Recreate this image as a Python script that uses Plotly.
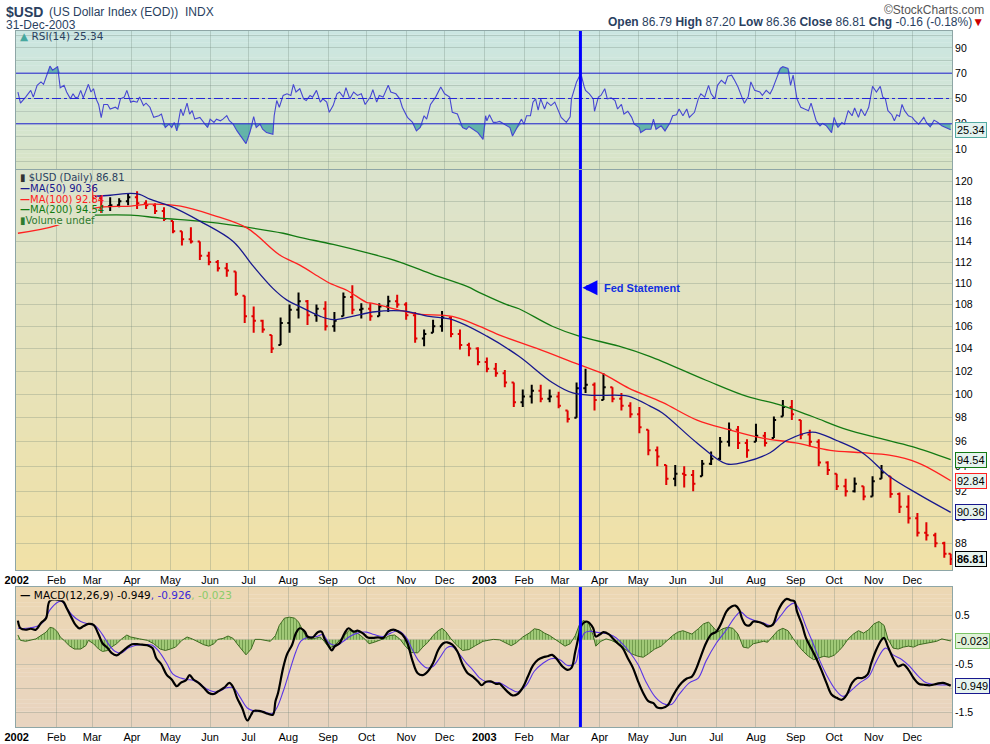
import numpy as np
import pandas as pd
import plotly.graph_objects as go

START = pd.Timestamp("2002-01-01")

# ---- price: weekly bars (Fridays), x given as days counted from 2002-01-01
week_days = list(range(59, 361, 7)) + list(range(367, 725, 7)) + [729]
price_high = [
    119.6, 118.6, 118.4, 118.3, 118.8, 119.0, 118.1, 117.8, 117.4, 116.0,
    115.0, 115.4, 114.0, 113.0, 112.2, 111.9, 111.1, 108.8, 107.8, 106.6,
    105.2, 106.8, 108.0, 109.1, 108.4, 108.0, 108.3, 107.3, 109.1, 109.8,
    108.1, 108.1, 108.1, 108.8, 108.9, 108.2, 107.3, 105.7, 106.6, 107.4,
    106.9, 105.7, 104.5, 104.1,
    103.2, 102.7, 102.1, 101.0, 100.4, 100.8, 100.8, 100.4, 100.2, 98.6,
    101.0, 102.2, 101.0, 101.8, 100.6, 100.1, 99.3, 98.9, 97.0, 95.6,
    94.1, 94.1, 94.0, 93.7, 94.5, 95.2, 96.4, 97.6, 97.3, 96.2,
    97.5, 96.8, 98.1, 99.5, 99.5, 97.8, 97.0, 96.2, 94.4, 93.4,
    93.0, 93.1, 92.4, 93.2, 94.1, 93.2, 91.9, 91.7, 90.3, 89.6,
    88.8, 88.1, 87.20,
]
price_low = [
    117.9, 116.8, 117.0, 117.4, 117.6, 117.2, 117.2, 116.7, 116.0, 114.8,
    113.6, 113.8, 112.2, 111.7, 111.1, 110.6, 108.8, 106.3, 105.4, 105.4,
    103.6, 104.3, 105.4, 106.7, 106.1, 106.4, 105.6, 105.5, 106.9, 107.1,
    106.7, 106.5, 106.9, 107.3, 107.7, 106.6, 104.5, 104.2, 105.4, 105.5,
    105.0, 103.9, 103.3, 102.5,
    101.9, 101.5, 100.6, 98.9, 98.9, 99.2, 99.3, 99.3, 98.8, 97.6,
    98.0, 100.1, 98.6, 99.5, 99.3, 98.6, 98.0, 96.7, 94.9, 94.0,
    92.5, 92.4, 92.3, 92.0, 93.2, 94.1, 94.5, 95.6, 95.4, 94.7,
    96.0, 95.6, 96.3, 98.1, 97.8, 96.2, 95.6, 94.0, 93.3, 92.1,
    91.6, 91.9, 91.3, 91.6, 93.0, 91.5, 90.3, 89.5, 88.5, 88.2,
    87.7, 86.9, 86.36,
]
price_close = [
    118.3, 117.5, 117.6, 118.0, 118.4, 117.8, 117.6, 117.0, 116.2, 115.0,
    114.2, 114.0, 112.6, 112.0, 111.4, 111.2, 109.0, 106.9, 106.5, 105.7,
    104.0, 106.3, 107.5, 108.3, 107.0, 107.6, 106.0, 106.5, 108.7, 107.5,
    107.6, 106.9, 107.8, 108.3, 108.0, 107.0, 104.9, 105.3, 106.0, 106.8,
    105.3, 104.3, 104.0, 102.8,
    102.2, 101.8, 101.0, 99.3, 99.8, 100.3, 99.6, 99.8, 99.0, 97.9,
    100.5, 100.8, 99.5, 100.6, 99.6, 99.0, 98.3, 97.2, 95.3, 94.8,
    93.0, 93.4, 93.3, 92.6, 94.2, 94.6, 96.0, 97.0, 95.9, 95.3,
    96.5, 95.9, 97.8, 98.9, 98.3, 96.6, 96.0, 94.3, 93.7, 92.4,
    92.0, 92.6, 91.6, 92.8, 93.5, 91.8, 90.8, 89.9, 88.8, 88.6,
    88.0, 87.2, 86.81,
]
first_open = 119.0

ma50_days = [61, 73, 89, 96, 104, 120, 143, 169, 184, 200, 211, 221, 237, 247, 262, 278, 301, 322,
             340, 367, 392, 418, 434, 449, 470, 478, 494, 504, 531, 554, 570, 588, 601, 621, 640,
             660, 681, 705, 729]
ma50_vals = [118.5, 118.6, 118.8, 118.7, 118.2, 117.5, 116.0, 114.0, 111.7, 109.5, 108.4, 107.8,
             106.9, 106.6, 106.9, 107.3, 107.4, 106.9, 106.6, 105.1, 103.3, 101.0, 100.1, 99.9,
             99.9, 99.8, 99.0, 98.4, 95.9, 94.2, 94.4, 95.1, 96.1, 96.8, 96.1, 95.1, 93.2, 91.7,
             90.36]
ma100_days = [1, 32, 61, 89, 104, 128, 153, 180, 205, 221, 237, 244, 258, 273, 278, 301, 314, 340,
              359, 379, 406, 438, 457, 478, 504, 531, 556, 582, 608, 635, 660, 681, 703, 729]
ma100_vals = [114.8, 115.6, 117.3, 117.5, 117.7, 117.5, 116.6, 115.3, 112.7, 111.7, 110.5, 110.0,
              109.3, 108.2, 108.1, 107.4, 107.1, 106.9, 106.1, 105.1, 104.0, 102.6, 101.8, 100.5,
              99.3, 97.8, 97.0, 96.3, 95.9, 95.3, 95.1, 94.9, 94.3, 92.84]
ma200_days = [61, 89, 112, 143, 174, 208, 221, 247, 273, 299, 325, 351, 363, 382, 392, 418, 439,
              470, 494, 538, 570, 595, 621, 648, 673, 699, 729]
ma200_vals = [116.6, 116.6, 116.3, 116.0, 115.5, 114.8, 114.4, 113.7, 112.9, 112.0, 110.8, 109.7,
              109.0, 108.0, 107.6, 106.0, 105.1, 104.2, 103.3, 101.2, 99.8, 99.1, 98.1, 97.0,
              96.3, 95.6, 94.54]

# ---- RSI(14)
rsi_days = [
    1, 3, 7, 11, 13, 16, 19, 21, 24, 26, 28, 30, 32, 34, 37, 39, 42, 44, 46, 48, 50, 52, 56, 58,
    60, 62, 64, 66, 68, 71, 73, 77, 79, 81, 84, 86, 89, 91, 94, 96, 99, 101, 104, 107, 111, 113,
    116, 119, 121, 123, 125, 128, 130, 133, 135, 137, 139, 143, 146, 149, 151, 154, 156, 159, 161,
    164, 166, 169, 172, 176, 179, 182, 185, 187, 190, 192, 195, 200, 201, 203, 205, 208, 211, 214,
    216, 218, 221, 224, 226, 229, 231, 234, 237, 239, 242, 244, 247, 250, 252, 255, 257, 260, 263,
    266, 269, 272, 276, 278, 281, 283, 286, 290, 292, 296, 299, 301, 305, 309, 312, 315, 318, 320,
    323, 327, 331, 334, 338, 340, 344, 348, 351, 353, 356, 360, 364, 366, 367, 369, 372, 374, 377,
    381, 385, 387, 390, 394, 396, 398, 401, 403, 405, 407, 409, 412, 414, 417, 420, 422, 425, 429,
    432, 433, 435, 437, 439, 441, 443, 444, 447, 450, 451, 454, 456, 459, 461, 464, 467, 469, 472,
    474, 477, 480, 482, 486, 487, 491, 495, 497, 499, 503, 506, 510, 512, 515, 517, 520, 523, 525,
    529, 532, 534, 537, 540, 542, 545, 547, 550, 553, 555, 558, 560, 563, 566, 568, 571, 573, 576,
    580, 582, 585, 588, 590, 593, 596, 598, 602, 604, 606, 609, 612, 615, 618, 620, 622, 624, 627,
    629, 632, 636, 638, 641, 644, 646, 649, 652, 654, 657, 659, 662, 665, 668, 671, 674, 676, 678,
    680, 683, 685, 687, 689, 691, 693, 696, 699, 701, 704, 708, 710, 713, 716, 719, 722, 725, 729,
]
rsi_vals = [
    55.1, 46.3, 51.1, 56.4, 51.1, 60.4, 63.1, 61.2, 69.7, 75.6, 72.4, 73.7, 75.1, 58.5, 60.4, 55.1,
    49.7, 53.7, 50.5, 51.1, 56.4, 50.5, 61.2, 55.1, 57.7, 49.7, 45.3, 34.9, 45.3, 45.3, 41.7, 43.1,
    41.7, 49.7, 51.1, 56.4, 47.1, 47.9, 47.1, 51.1, 44.4, 46.3, 43.1, 35.1, 36.4, 37.7, 27.1, 29.7,
    27.1, 31.1, 24.4, 41.7, 36.4, 46.3, 37.7, 40.4, 33.7, 35.1, 31.1, 27.1, 33.7, 31.1, 33.7, 32.4,
    33.7, 36.4, 32.4, 29.7, 24.4, 19.1, 14.3, 23.1, 35.6, 27.1, 29.7, 25.7, 23.1, 21.7, 36.4, 48.4,
    43.1, 52.4, 53.7, 52.4, 61.2, 55.1, 57.7, 49.7, 48.4, 52.4, 51.1, 56.4, 47.1, 49.7, 47.1, 39.1,
    44.4, 53.7, 55.1, 51.1, 58.5, 49.7, 55.1, 52.4, 53.7, 45.3, 51.1, 56.9, 47.1, 52.4, 51.1, 60.4,
    55.1, 53.7, 49.7, 43.1, 35.1, 31.1, 24.4, 27.1, 36.4, 33.7, 45.3, 51.1, 59.1, 53.7, 51.1, 39.1,
    37.7, 27.1, 25.7, 27.9, 25.7, 23.1, 17.7, 36.4, 32.4, 37.2, 31.1, 31.1, 31.9,
    29.7, 27.1, 20.4, 25.7, 33.7, 29.7, 36.4, 36.4, 47.1, 49.7, 40.9, 49.7, 41.7, 47.1, 44.4, 47.1,
    41.7, 35.1, 31.1, 35.6, 49.7, 56.4, 63.1, 67.1, 67.1, 59.1, 56.4, 53.7, 49.7, 39.9, 51.1, 52.4,
    57.7, 49.7, 50.5, 48.4, 41.7, 45.3, 37.7, 39.9, 35.1, 29.7, 27.1, 23.1, 25.7, 25.7, 33.7, 25.7,
    28.4, 24.4, 31.1, 36.4, 37.2, 41.7, 36.4, 41.7, 35.1, 39.1, 49.7, 53.7, 51.1, 60.4, 53.7, 49.7,
    60.4, 64.4, 61.7, 67.6, 68.4, 64.9, 59.1, 51.1, 46.3, 51.6, 63.1, 56.4, 55.1, 52.4, 56.4, 53.7,
    57.7, 65.7, 73.7, 75.1, 73.7, 60.4, 68.4, 49.7, 43.1, 41.7, 40.4, 46.3, 39.1, 32.4, 28.4, 30.3,
    28.4, 23.1, 35.1, 27.1, 31.1, 29.7, 40.4, 36.4, 42.5, 35.1, 41.7, 36.4, 43.1, 59.6, 55.1, 59.6,
    51.1, 49.7, 40.4, 37.2, 32.4, 37.2, 35.9, 45.3, 40.4, 36.4, 35.1, 32.4, 29.7, 35.1, 31.1, 27.6,
    32.9, 31.1, 28.4, 27.1, 25.34,
]

# ---- MACD(12,26,9)
macd_days = [
    1, 3, 7, 11, 15, 19, 23, 26, 36, 39, 43, 46, 49, 52, 56, 60, 64, 67, 71, 74, 78, 81, 86, 90,
    94, 98, 102, 106, 109, 113, 117, 121, 125, 128, 132, 135, 138, 142, 146, 150, 154, 157, 162,
    166, 169, 172, 176, 180, 183, 185, 189, 192, 196, 200, 202, 204, 208, 211, 215, 218, 221, 225,
    227, 231, 235, 238, 240, 243, 246, 248, 252, 256, 259, 263, 266, 270, 274, 278, 282, 286, 290,
    294, 298, 301, 305, 309, 313, 317, 321, 325, 329, 333, 336, 340, 344, 348, 352, 356, 360, 363,
    366, 370, 374, 377,
    379, 383, 387, 391, 395, 399, 403, 407, 411, 414, 418, 422, 426, 430, 433, 436, 439, 441, 445,
    447, 450, 452, 455, 458, 462, 465, 469, 473, 477, 481, 485, 489, 493, 497, 500, 504, 508, 512,
    515, 519, 523, 527, 530, 534, 538, 542, 546, 550, 554, 558, 561, 564, 566, 569, 572, 575, 579,
    583, 586, 590, 594, 598, 601, 604, 607, 609, 613, 616, 620, 624, 628, 632, 636, 640, 644, 648,
    652, 656, 660, 664, 667, 671, 675, 677, 680, 684, 688, 692, 696, 700, 704, 708, 713, 718, 723,
    729,
]
macd_vals = [
    0.40, 0.24, 0.21, 0.23, 0.21, 0.35, 0.45, 0.81, 0.80, 0.66, 0.45, 0.31, 0.24, 0.28, 0.33, 0.31,
    0.11, -0.07, -0.17, -0.27, -0.32, -0.27, -0.16, -0.09, -0.09, -0.10, -0.11, -0.17, -0.38, -0.51,
    -0.72, -0.82, -0.96, -0.89, -0.84, -0.73, -0.82, -0.89, -0.99, -1.10, -1.12, -1.07, -0.99,
    -0.89, -0.98, -1.20, -1.41, -1.67, -1.55, -1.47, -1.47, -1.49, -1.53, -1.55, -1.27, -1.10,
    -0.58, -0.30, -0.10, 0.14, 0.24, 0.17, 0.07, 0.05, 0.16, 0.17, 0.04, -0.10, -0.22, -0.14, -0.07,
    0.14, 0.24, 0.17, 0.19, 0.14, 0.05, 0.04, 0.05, 0.04, 0.17, 0.21, 0.17, 0.11, -0.07, -0.44,
    -0.69, -0.73, -0.65, -0.48, -0.21, -0.07, -0.05, -0.10, -0.24, -0.51, -0.69, -0.76, -0.86,
    -0.94, -0.87, -0.86, -0.91, -0.91,
    -0.96, -1.07, -1.15, -1.12, -0.99, -0.76, -0.53, -0.41, -0.36, -0.34, -0.31, -0.41, -0.55,
    -0.62, -0.58, -0.24, 0.11, 0.31, 0.38, 0.35, 0.24, 0.07, 0.11, 0.16, 0.12, 0.04, -0.07, -0.17,
    -0.38, -0.58, -0.86, -1.10, -1.27, -1.31, -1.40, -1.41, -1.36, -1.17, -1.03, -0.89, -0.80,
    -0.76, -0.62, -0.34, -0.07, 0.11, 0.17, 0.35, 0.59, 0.69, 0.71, 0.62, 0.45, 0.31, 0.30, 0.38,
    0.37, 0.33, 0.28, 0.31, 0.59, 0.78, 0.85, 0.82, 0.80, 0.59, 0.31, 0.04, -0.17, -0.38, -0.62,
    -0.89, -1.13, -1.20, -1.24, -1.13, -0.89, -0.79, -0.79, -0.72, -0.48, -0.20, 0.00, 0.04, -0.14,
    -0.38, -0.55, -0.51, -0.62, -0.79, -0.91, -0.93, -0.94, -0.91, -0.89, -0.949,
]
signal_days = [
    1, 8, 16, 21, 26, 32, 35, 38, 43, 50, 56, 61, 67, 72, 77, 82, 87, 93, 99, 106, 111, 117, 122,
    128, 133, 138, 143, 148, 156, 164, 169, 174, 180, 185, 192, 199, 203, 208, 213, 218, 222, 227,
    234, 239, 244, 250, 255, 260, 266, 273, 279, 286, 292, 298, 304, 309, 314, 320, 325, 330, 336,
    340, 346, 351, 356, 361, 366, 372, 377,
    385, 391, 398, 404, 411, 417, 424, 430, 436, 439, 443, 447, 452, 458, 463, 468, 473, 478, 485,
    491, 498, 504, 511, 517, 525, 532, 538, 546, 554, 560, 565, 570, 576, 583, 589, 596, 602, 607,
    611, 616, 622, 627, 632, 639, 645, 652, 658, 665, 671, 678, 684, 691, 697, 704, 710, 718, 729,
]
signal_vals = [
    0.24, 0.24, 0.28, 0.38, 0.62, 0.78, 0.80, 0.71, 0.52, 0.38, 0.33, 0.30, 0.11, -0.10, -0.24,
    -0.27, -0.17, -0.11, -0.10, -0.11, -0.24, -0.48, -0.71, -0.79, -0.82, -0.84, -0.91, -1.01,
    -1.08, -0.99, -0.99, -1.17, -1.41, -1.47, -1.48, -1.53, -1.41, -1.07, -0.65, -0.24, -0.02,
    0.05, 0.07, 0.11, -0.07, -0.11, -0.03, 0.07, 0.14, 0.16, 0.11, 0.07, 0.14, 0.19, 0.05, -0.21,
    -0.44, -0.58, -0.55, -0.38, -0.16, -0.14, -0.31, -0.48, -0.62, -0.78, -0.86, -0.88, -0.89,
    -1.01, -1.08, -0.93, -0.65, -0.48, -0.39, -0.41, -0.53, -0.48, -0.17, 0.14, 0.18, 0.16, 0.14,
    0.11, 0.04, -0.09, -0.24, -0.51, -0.86, -1.17, -1.31, -1.34, -1.13, -0.89, -0.79, -0.44,
    -0.07, 0.21, 0.45, 0.58, 0.47, 0.40, 0.35, 0.30, 0.49, 0.69, 0.76, 0.62, 0.28, -0.10, -0.44,
    -0.72, -1.03, -1.17, -1.03, -0.89, -0.76, -0.44, -0.17, -0.31, -0.41, -0.55, -0.76, -0.89,
    -0.93, -0.926,
]
hist_days = [
    1, 3, 7, 11, 15, 19, 23, 26, 29, 32, 34, 37, 41, 45, 50, 54, 56, 60, 64, 67, 71, 74, 78, 82,
    86, 89, 93, 96, 102, 107, 112, 116, 120, 124, 129, 133, 137, 141, 146, 150, 154, 157, 161, 165,
    169, 172, 176, 179, 183, 186, 190, 194, 198, 202, 205, 209, 213, 217, 220, 224, 227, 231, 237,
    240, 244, 248, 252, 256, 260, 264, 268, 272, 275, 279, 283, 287, 291, 295, 299, 303, 308, 313,
    317, 321, 325, 329, 332, 335, 339, 343, 348, 353, 358, 364, 368, 372, 377,
    381, 386, 390, 395, 400, 404, 408, 412, 416, 420, 424, 428, 432, 436, 439, 442, 446, 450, 452,
    456, 460, 464, 468, 472, 476, 480, 485, 489, 493, 498, 503, 508, 512, 516, 520, 523, 527, 532,
    536, 540, 544, 547, 551, 555, 559, 563, 567, 571, 575, 579, 583, 586, 590, 594, 598, 602, 606,
    610, 614, 618, 622, 626, 630, 634, 638, 642, 645, 649, 653, 657, 661, 665, 669, 673, 677, 680,
    684, 688, 692, 696, 700, 704, 708, 713, 718, 722, 729,
]
hist_vals = [
    0.10, -0.01, -0.03, -0.01, 0.02, 0.09, 0.16, 0.26, 0.24, 0.16, 0.06, -0.01, -0.12, -0.19,
    -0.19, -0.12, -0.01, -0.08, -0.19, -0.24, -0.22, -0.15, -0.08, 0.02, 0.10, 0.06, 0.03, 0.02,
    -0.01, -0.08, -0.19, -0.22, -0.19, -0.15, -0.01, 0.06, 0.02, -0.03, -0.10, -0.13, -0.08, 0.01,
    0.03, 0.08, 0.03, -0.08, -0.22, -0.31, -0.19, 0.01, 0.01, -0.01, -0.03, 0.09, 0.30, 0.45, 0.47,
    0.45, 0.37, 0.16, 0.02, 0.02, 0.06, -0.03, -0.17, -0.12, -0.01, 0.12, 0.21, 0.17, 0.10, 0.01,
    -0.08, -0.05, -0.01, 0.03, 0.09, 0.10, 0.02, -0.12, -0.26, -0.27, -0.15, -0.05, 0.09, 0.19,
    0.24, 0.17, 0.02, -0.10, -0.22, -0.20, -0.12, -0.03, -0.01, 0.01, 0.00,
    -0.06, -0.12, -0.06, 0.06, 0.14, 0.23, 0.21, 0.14, 0.09, 0.02, -0.05, -0.13, -0.08, 0.09, 0.30,
    0.40, 0.37, 0.09, -0.13, -0.03, 0.02, -0.01, -0.06, -0.13, -0.22, -0.29, -0.34, -0.36, -0.29,
    -0.19, -0.13, -0.01, 0.09, 0.16, 0.19, 0.16, 0.12, 0.23, 0.33, 0.37, 0.24, 0.16, 0.23, 0.26,
    0.24, 0.12, -0.15, -0.17, -0.08, -0.05, -0.03, -0.05, 0.06, 0.19, 0.24, 0.19, 0.03, -0.12,
    -0.24, -0.34, -0.41, -0.38, -0.34, -0.36, -0.32, -0.22, -0.13, 0.02, 0.12, 0.19, 0.14, 0.21,
    0.33, 0.38, 0.30, 0.02, -0.17, -0.19, -0.15, -0.13, -0.15, -0.10, -0.08, -0.06, -0.03, 0.02,
    -0.023,
]

month_starts = pd.date_range("2002-01-01", "2003-12-01", freq="MS")
month_labels = [f"<b>{d.year}</b>" if d.month == 1 else d.strftime("%b") for d in month_starts]
price_ticks = list(range(88, 121, 2))
fed_date = "2003-03-17"

for a, b in [(week_days, price_high), (week_days, price_low), (week_days, price_close),
             (ma50_days, ma50_vals), (ma100_days, ma100_vals), (ma200_days, ma200_vals),
             (rsi_days, rsi_vals), (macd_days, macd_vals), (signal_days, signal_vals),
             (hist_days, hist_vals)]:
    assert len(a) == len(b), (len(a), len(b))


def to_dates(days):
    return START + pd.to_timedelta(days, unit="D")


def hex_rgb(h):
    h = h.lstrip("#")
    return np.array([int(h[i:i + 2], 16) for i in (0, 2, 4)], dtype=float)


def add_gradient(fig, ax, top, bottom, steps=36, x1=1.0, ymin=0.0, layer="below"):
    t, b = hex_rgb(top), hex_rgb(bottom)
    for i in range(steps):
        y0, y1 = i / steps, (i + 1) / steps
        if y1 <= ymin:
            continue
        c = b + (t - b) * (i + 0.5) / steps
        fig.add_shape(type="rect", xref=f"x{ax} domain", yref=f"y{ax} domain",
                      x0=0, x1=x1, y0=max(y0, ymin), y1=min(y1 + 0.002, 1.0),
                      fillcolor="rgb(%d,%d,%d)" % tuple(c.round()), line_width=0, layer=layer)


wk = to_dates(week_days)
closes = np.array(price_close)
opens = np.clip(np.r_[first_open, closes[:-1]], price_low, price_high)

rsi_x = to_dates(rsi_days)
rsi = np.array(rsi_vals)

fig = go.Figure()

# RSI panel
fig.add_trace(go.Scatter(x=rsi_x, y=[70] * len(rsi), mode="lines", line=dict(width=0),
                         xaxis="x", yaxis="y", hoverinfo="skip"))
fig.add_trace(go.Scatter(x=rsi_x, y=np.maximum(rsi, 70), mode="lines", line=dict(width=0),
                         fill="tonexty", fillcolor="rgba(70,168,160,0.8)",
                         xaxis="x", yaxis="y", hoverinfo="skip"))
fig.add_trace(go.Scatter(x=rsi_x, y=[30] * len(rsi), mode="lines", line=dict(width=0),
                         xaxis="x", yaxis="y", hoverinfo="skip"))
fig.add_trace(go.Scatter(x=rsi_x, y=np.minimum(rsi, 30), mode="lines", line=dict(width=0),
                         fill="tonexty", fillcolor="rgba(70,168,160,0.8)",
                         xaxis="x", yaxis="y", hoverinfo="skip"))
fig.add_trace(go.Scatter(x=rsi_x, y=rsi, mode="lines", line=dict(color="#4646d2", width=1.1),
                         xaxis="x", yaxis="y", name="RSI(14)"))

# price panel
fig.add_trace(go.Ohlc(x=wk, open=opens, high=price_high, low=price_low, close=price_close,
                      increasing_line_color="#000000", decreasing_line_color="#e00000",
                      line_width=2, tickwidth=0.35, xaxis="x2", yaxis="y2", name="$USD"))
fig.add_trace(go.Scatter(x=to_dates(ma200_days), y=ma200_vals, mode="lines",
                         line=dict(color="#137a13", width=1.3, shape="spline"),
                         xaxis="x2", yaxis="y2", name="MA(200)"))
fig.add_trace(go.Scatter(x=to_dates(ma100_days), y=ma100_vals, mode="lines",
                         line=dict(color="#ff2020", width=1.3, shape="spline"),
                         xaxis="x2", yaxis="y2", name="MA(100)"))
fig.add_trace(go.Scatter(x=to_dates(ma50_days), y=ma50_vals, mode="lines",
                         line=dict(color="#18188e", width=1.3, shape="spline"),
                         xaxis="x2", yaxis="y2", name="MA(50)"))

# MACD panel
fig.add_trace(go.Scatter(x=to_dates(hist_days), y=hist_vals, mode="lines",
                         line=dict(color="#3e6b20", width=1), fill="tozeroy",
                         fillcolor="#a9d17f",
                         fillpattern=dict(shape="|", fgcolor="#3e6b20", bgcolor="#a9d17f",
                                          size=3, solidity=0.45),
                         xaxis="x3", yaxis="y3", name="Histogram"))
fig.add_trace(go.Scatter(x=to_dates(signal_days), y=signal_vals, mode="lines",
                         line=dict(color="#5a35e6", width=1.1, shape="spline"),
                         xaxis="x3", yaxis="y3", name="Signal"))
fig.add_trace(go.Scatter(x=to_dates(macd_days), y=macd_vals, mode="lines",
                         line=dict(color="#000000", width=2.2, shape="spline"),
                         xaxis="x3", yaxis="y3", name="MACD"))

# backgrounds
add_gradient(fig, "", "#cbe6e2", "#d9e4c6")
add_gradient(fig, "2", "#dbe3cd", "#f1e1a6")
add_gradient(fig, "3", "#ecd7b3", "#e8d4c0")
# opaque legend boxes
add_gradient(fig, "2", "#dbe3cd", "#f1e1a6", x1=0.0815, ymin=0.8625, layer="above")
add_gradient(fig, "3", "#ecd7b3", "#e8d4c0", x1=0.248, ymin=0.905, layer="above")

# RSI reference lines
for lvl, dash in [(70, "solid"), (30, "solid"), (50, "dashdot")]:
    fig.add_shape(type="line", xref="x domain", yref="y", x0=0, x1=1, y0=lvl, y1=lvl,
                  line=dict(color="#2424d8", width=1, dash=dash), layer="above")

# Fed statement line through all three panels
for ax in ["", "2", "3"]:
    fig.add_shape(type="line", xref=f"x{ax}", yref=f"y{ax} domain", x0=fed_date, x1=fed_date,
                  y0=0, y1=1, line=dict(color="#0000ff", width=3), layer="above")

grid = "rgba(105,125,115,0.28)"
frame = "#8ea6a6"
label_font = dict(family="Liberation Sans, Arial, sans-serif", size=11, color="#000000")
xcommon = dict(type="date", range=["2001-12-31 12:00", "2004-01-01"], tickvals=month_starts,
               ticktext=month_labels, showgrid=True, gridcolor=grid, gridwidth=1, ticks="",
               showline=True, mirror=True, linecolor=frame, linewidth=1, automargin=False,
               tickfont=label_font, zeroline=False, rangeslider=dict(visible=False))
ycommon = dict(side="right", showgrid=True, gridcolor=grid, gridwidth=1, ticks="",
               showline=True, mirror=True, linecolor=frame, linewidth=1, zeroline=False,
               automargin=False,
               tickfont=dict(family="Liberation Sans, Arial, sans-serif", size=10.5,
                             color="#000000"))

fig.update_layout(
    width=990, height=744, autosize=False,
    margin=dict(l=16, r=38, t=31, b=17),
    paper_bgcolor="#ffffff", plot_bgcolor="rgba(0,0,0,0)",
    showlegend=False, hovermode=False,
    xaxis=dict(xcommon, anchor="y", showticklabels=False),
    xaxis2=dict(xcommon, anchor="y2", matches="x"),
    xaxis3=dict(xcommon, anchor="y3", matches="x"),
    yaxis=dict(ycommon, anchor="x", domain=[0.8017, 1.0], range=[-5.7, 103.3],
               tickvals=list(range(0, 101, 10)),
               ticktext=["", "10", "", "30", "", "50", "", "70", "", "90", ""]),
    yaxis2=dict(ycommon, anchor="x2", domain=[0.2256, 0.8003], type="log",
                range=[np.log10(86.0), np.log10(121.2)], tickvals=price_ticks,
                ticktext=[str(v) for v in price_ticks]),
    yaxis3=dict(ycommon, anchor="x3", domain=[0.0, 0.2011], range=[-1.804, 1.094],
                tickvals=[0.5, 0, -0.5, -1.0, -1.5], ticktext=["0.5", "", "-0.5", "", "-1.5"]),
)


def px_x(px):
    return (px - 16) / 936


def px_y(py):
    return (727 - py) / 696


narrow = "Liberation Sans Narrow, Liberation Sans, Arial, sans-serif"
legend_font = "DejaVu Sans, Verdana, sans-serif"
ann = []
# header
ann.append(dict(x=px_x(4), y=px_y(12), text="<b>$USD</b>", font=dict(family=narrow, size=14)))
ann.append(dict(x=px_x(47), y=px_y(12), text="(US Dollar Index (EOD))  INDX",
                font=dict(family=narrow, size=12)))
ann.append(dict(x=px_x(4), y=px_y(25), text="31-Dec-2003", font=dict(family=narrow, size=12)))
ann.append(dict(x=px_x(986), y=px_y(10), text="©StockCharts.com", xanchor="right",
                font=dict(family=narrow, size=12, color="#555555")))
ann.append(dict(x=px_x(986), y=px_y(22), xanchor="right",
                text="<b>Open</b> 86.79 <b>High</b> 87.20 <b>Low</b> 86.36 <b>Close</b> 86.81 "
                     "<b>Chg</b> -0.16 (-0.18%)<span style='color:#cc0000'>▼</span>",
                font=dict(family=narrow, size=12)))
# panel legends
ann.append(dict(x=px_x(18), y=px_y(36),
                text="<span style='color:#46a89f'>▲</span> RSI(14) 25.34",
                font=dict(family=legend_font, size=10.5)))
ann.append(dict(x=px_x(18), y=px_y(178),
                text="<span style='color:#333'>▮</span> $USD (Daily) 86.81",
                font=dict(family=legend_font, size=10)))
ann.append(dict(x=px_x(18), y=px_y(188.5), text="<b>—</b>MA(50) 90.36",
                font=dict(family=legend_font, size=10, color="#18188e")))
ann.append(dict(x=px_x(18), y=px_y(199), text="<b>—</b>MA(100) 92.84",
                font=dict(family=legend_font, size=10, color="#ff2020")))
ann.append(dict(x=px_x(18), y=px_y(209.5), text="<b>—</b>MA(200) 94.54",
                font=dict(family=legend_font, size=10, color="#137a13")))
ann.append(dict(x=px_x(18), y=px_y(220), text="▮Volume undef",
                font=dict(family=legend_font, size=10, color="#2e7a2e")))
ann.append(dict(x=px_x(18), y=px_y(594.5),
                text="<b>—</b> MACD(12,26,9) -0.949<span style='color:#3a2ad8'>, -0.926</span>"
                     "<span style='color:#8acb6a'>, -0.023</span>",
                font=dict(family=legend_font, size=10.5, color="#000000")))
for a in ann:
    a.update(xref="paper", yref="paper", showarrow=False, yanchor="middle")
    a.setdefault("xanchor", "left")

# value tags on the right axis
tags = [
    ("y", 25.34, "25.34", "#52aaa2", "#e2f2ef", False),
    ("y2", np.log10(94.54), "94.54", "#137a13", "#e6f3ee", False),
    ("y2", np.log10(92.84), "92.84", "#ff2020", "#e6f3ee", False),
    ("y2", np.log10(90.36), "90.36", "#18188e", "#e6f3ee", False),
    ("y2", np.log10(86.81), "86.81", "#000000", "#e6f3ee", True),
    ("y3", -0.023, "-0.023", "#7cc466", "#dff2d8", False),
    ("y3", -0.949, "-0.949", "#18188e", "#e6f3ee", False),
]
for yref, yv, txt, border, bg, bold in tags:
    ann.append(dict(xref="paper", yref=yref, x=1.0, y=yv, xanchor="left", yanchor="middle",
                    xshift=3, showarrow=False, text=f"<b>{txt}</b>" if bold else txt,
                    bgcolor=bg, bordercolor=border, borderwidth=1, borderpad=1,
                    font=dict(family="Liberation Sans, Arial, sans-serif", size=11,
                              color="#000000")))

# Fed statement marker
ann.append(dict(xref="x2", yref="y2", x=fed_date, y=np.log10(109.55), text="",
                showarrow=True, ax=17, ay=0, arrowhead=2, arrowsize=0.6, arrowwidth=5,
                arrowcolor="#0000ff", standoff=2))
ann.append(dict(xref="x2", yref="y2", x=fed_date, y=np.log10(109.55), xshift=22,
                xanchor="left", yanchor="middle", showarrow=False, text="<b>Fed Statement</b>",
                font=dict(family="Liberation Sans, Arial, sans-serif", size=11,
                          color="#1030e0")))

fig.update_layout(annotations=ann)
# the page's default body margin would push the 990x744 figure out of the window
fig.write_html("out.html", config={"displayModeBar": False},
               post_script="document.body.style.margin='0px';")
